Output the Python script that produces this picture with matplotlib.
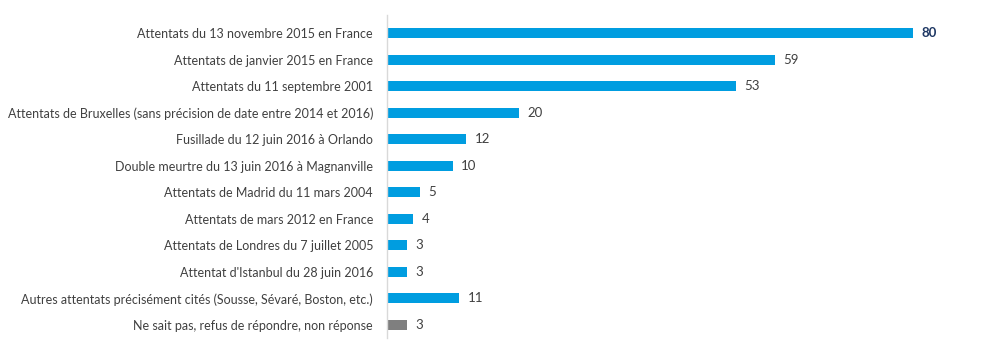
import matplotlib
matplotlib.use('Agg')
import matplotlib.pyplot as plt

##### data #####
labels = [
    'Attentats du 13 novembre 2015 en France',
    'Attentats de janvier 2015 en France',
    'Attentats du 11 septembre 2001',
    'Attentats de Bruxelles (sans précision de date entre 2014 et 2016)',
    'Fusillade du 12 juin 2016 à Orlando',
    'Double meurtre du 13 juin 2016 à Magnanville',
    'Attentats de Madrid du 11 mars 2004',
    'Attentats de mars 2012 en France',
    'Attentats de Londres du 7 juillet 2005',
    "Attentat d'Istanbul du 28 juin 2016",
    'Autres attentats précisément cités (Sousse, Sévaré, Boston, etc.)',
    'Ne sait pas, refus de répondre, non réponse',
]
values = [80, 59, 53, 20, 12, 10, 5, 4, 3, 3, 11, 3]

blue = '#009de0'
grey = '#7f7f7f'
txt = '#404040'

plt.rcParams['font.family'] = ['Lato', 'DejaVu Sans']

fig = plt.figure(figsize=(10, 3.58), dpi=100)
ax = fig.add_axes([0.387, 0.0552, 0.592, 0.904])

pos = list(range(len(values)))
colors = [blue] * (len(values) - 1) + [grey]
ax.barh(pos, values, height=0.38, color=colors)

#value labels to the right of each bar, the top one in bold navy
for i, v in enumerate(values):
    if i == 0:
        ax.text(v + 1.3, i, str(v), va='center', ha='left', fontsize=9.5, color='#1f3864', fontweight='bold')
    else:
        ax.text(v + 1.3, i, str(v), va='center', ha='left', fontsize=9.5, color=txt)

ax.set_yticks(pos)
ax.set_yticklabels(labels, fontsize=9, color=txt)
ax.tick_params(axis='y', length=0, pad=10)
ax.set_xticks([])
ax.set_xlim(0, 90)
ax.set_ylim(11.5, -0.7)
for s in ['top', 'right', 'bottom']:
    ax.spines[s].set_visible(False)
ax.spines['left'].set_color('#d9d9d9')
ax.spines['left'].set_linewidth(1)

plt.savefig('out.png', dpi=100)
